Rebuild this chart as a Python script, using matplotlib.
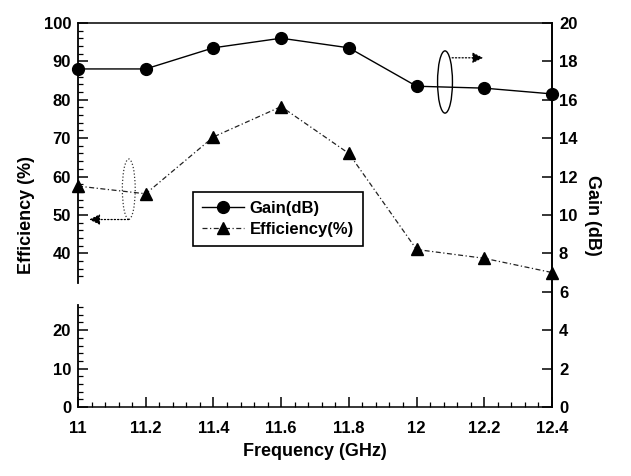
import numpy as np
import matplotlib
matplotlib.use('Agg')
import matplotlib.pyplot as plt
from matplotlib.patches import Ellipse
from matplotlib.ticker import FixedLocator, MultipleLocator, FormatStrFormatter

plt.rcParams['font.family'] = ['Liberation Sans', 'DejaVu Sans']
plt.rcParams['font.weight'] = 'bold'

# дані
freq = [11.0, 11.2, 11.4, 11.6, 11.8, 12.0, 12.2, 12.4]
gain = [17.6, 17.6, 18.7, 19.2, 18.7, 16.7, 16.6, 16.3]
eff = [57.5, 55.5, 70.3, 78.2, 66.0, 41.0, 38.7, 35.0]

eff_major = [0, 10, 20, 40, 50, 60, 70, 80, 90, 100]
eff_minor = [v for v in list(range(2, 27, 2)) + list(range(34, 100, 2)) if v % 10]
gain_ticks = [0, 2, 4, 6, 8, 10, 12, 14, 16, 18, 20]
x_ticks = [11.0, 11.2, 11.4, 11.6, 11.8, 12.0, 12.2, 12.4]

fig = plt.figure(figsize=(6.31, 4.76), dpi=100)
ax = fig.add_axes([0.1236, 0.145, 0.7512, 0.807])
ax2 = ax.twinx()

# ефективність (ліва вісь)
l_eff, = ax.plot(freq, eff, color='#222222', lw=0.9, ls=(0, (4, 2, 1, 2)),
                 marker='^', ms=9, mfc='black', mec='black', clip_on=False, zorder=3)
# підсилення (права вісь)
l_gain, = ax2.plot(freq, gain, color='black', lw=1.0, ls='-',
                   marker='o', ms=8.5, mfc='black', mec='black', clip_on=False, zorder=3)

ax.set_xlim(11, 12.4)
ax.set_ylim(0, 100)
ax2.set_ylim(0, 20)

# розірвана ліва вісь
ax.spines['left'].set_bounds(32.3, 100)
ax.spines['left'].set_linewidth(1.3)
ax.axvline(11, 0, 0.265, color='black', lw=1.3, clip_on=False)
for s in ['top', 'bottom', 'right']:
    ax.spines[s].set_linewidth(1.1)
for s in ax2.spines.values():
    s.set_visible(False)
ax2.spines['right'].set_visible(True)
ax2.spines['right'].set_linewidth(1.3)

ax.yaxis.set_major_locator(FixedLocator(eff_major))
ax.yaxis.set_minor_locator(FixedLocator(eff_minor))
ax.xaxis.set_major_locator(FixedLocator(x_ticks))
ax.xaxis.set_minor_locator(MultipleLocator(0.04))
ax.xaxis.set_major_formatter(FormatStrFormatter('%g'))
ax2.yaxis.set_major_locator(FixedLocator(gain_ticks))

ax.tick_params(axis='both', which='major', direction='in', length=7, width=1.1,
               labelsize=12, pad=5)
ax.tick_params(axis='both', which='minor', direction='in', length=3.5, width=0.9)
ax.tick_params(axis='x', which='both', top=False, pad=10)
ax.tick_params(axis='y', which='both', right=False)
ax2.tick_params(axis='y', which='major', direction='in', length=7, width=1.1,
                labelsize=12, pad=5)
for lab in ax.get_xticklabels() + ax.get_yticklabels() + ax2.get_yticklabels():
    lab.set_fontweight('bold')

ax.set_xlabel('Frequency (GHz)', fontsize=13, fontweight='bold', labelpad=5)
ax.set_ylabel('Efficiency (%)', fontsize=13, fontweight='bold', labelpad=6)
ax2.set_ylabel('Gain (dB)', fontsize=13, fontweight='bold', rotation=270, labelpad=17)

# еліпси з стрілками
ax.add_patch(Ellipse((11.15, 56.7), 0.038, 15.7, fill=False, ec='#333333', lw=0.9, ls=':'))
ax.annotate('', xy=(11.033, 48.8), xytext=(11.15, 48.8),
            arrowprops=dict(arrowstyle='-|>', color='black', lw=0.9, ls=':',
                            mutation_scale=16, shrinkA=0, shrinkB=0))
ax.add_patch(Ellipse((12.084, 84.6), 0.044, 16.2, fill=False, ec='black', lw=1.0))
ax.annotate('', xy=(12.197, 90.9), xytext=(12.105, 90.9),
            arrowprops=dict(arrowstyle='-|>', color='black', lw=0.9, ls=':',
                            mutation_scale=16, shrinkA=0, shrinkB=0))

# легенда
leg = ax2.legend([l_gain, l_eff], ['Gain(dB)', 'Efficiency(%)'], loc='upper left',
                 bbox_to_anchor=(0.243, 0.56), borderaxespad=0, frameon=True,
                 fancybox=False, framealpha=1, edgecolor='black',
                 prop={'weight': 'bold', 'size': 12},
                 handlelength=2.5, borderpad=0.55, labelspacing=0.35, handletextpad=0.35)
leg.get_frame().set_linewidth(1.2)

fig.savefig('out.png', dpi=100)
